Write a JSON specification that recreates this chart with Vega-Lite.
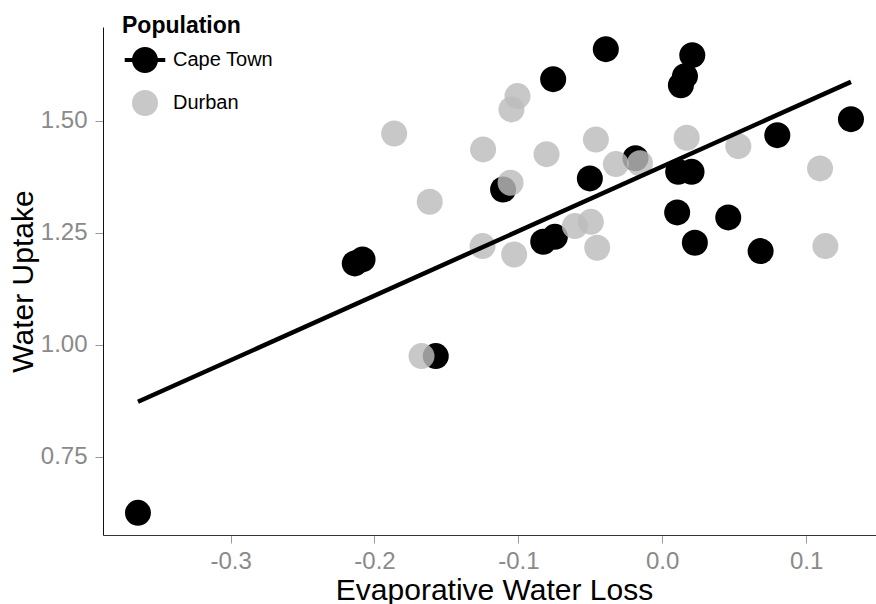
{
  "$schema": "https://vega.github.io/schema/vega-lite/v6.json",
  "autosize": {"type": "none"},
  "width": 773,
  "height": 508,
  "padding": {"left": 103, "top": 27, "right": 0, "bottom": 69},
  "background": "white",
  "config": {
    "view": {"stroke": null},
    "font": "Liberation Sans",
    "axis": {"grid": false}
  },
  "datasets": {
    "points": [
      {"Population": "Cape Town", "ewl": -0.3644, "wu": 0.6245},
      {"Population": "Cape Town", "ewl": -0.2137, "wu": 1.1813},
      {"Population": "Cape Town", "ewl": -0.2083, "wu": 1.1902},
      {"Population": "Cape Town", "ewl": -0.1574, "wu": 0.9743},
      {"Population": "Cape Town", "ewl": -0.1106, "wu": 1.3464},
      {"Population": "Cape Town", "ewl": -0.0827, "wu": 1.2295},
      {"Population": "Cape Town", "ewl": -0.0746, "wu": 1.2406},
      {"Population": "Cape Town", "ewl": -0.0758, "wu": 1.5926},
      {"Population": "Cape Town", "ewl": -0.0503, "wu": 1.371},
      {"Population": "Cape Town", "ewl": -0.0392, "wu": 1.6596},
      {"Population": "Cape Town", "ewl": -0.0186, "wu": 1.416},
      {"Population": "Cape Town", "ewl": 0.0104, "wu": 1.2951},
      {"Population": "Cape Town", "ewl": 0.0111, "wu": 1.3857},
      {"Population": "Cape Town", "ewl": 0.013, "wu": 1.579},
      {"Population": "Cape Town", "ewl": 0.0158, "wu": 1.5993},
      {"Population": "Cape Town", "ewl": 0.0204, "wu": 1.3857},
      {"Population": "Cape Town", "ewl": 0.0209, "wu": 1.6462},
      {"Population": "Cape Town", "ewl": 0.0227, "wu": 1.2273},
      {"Population": "Cape Town", "ewl": 0.0459, "wu": 1.284},
      {"Population": "Cape Town", "ewl": 0.0684, "wu": 1.2087},
      {"Population": "Cape Town", "ewl": 0.08, "wu": 1.4676},
      {"Population": "Cape Town", "ewl": 0.1312, "wu": 1.5033},
      {"Population": "Durban", "ewl": -0.1673, "wu": 0.9743},
      {"Population": "Durban", "ewl": -0.1863, "wu": 1.4714},
      {"Population": "Durban", "ewl": -0.1616, "wu": 1.3188},
      {"Population": "Durban", "ewl": -0.1245, "wu": 1.4357},
      {"Population": "Durban", "ewl": -0.1249, "wu": 1.2199},
      {"Population": "Durban", "ewl": -0.1054, "wu": 1.3612},
      {"Population": "Durban", "ewl": -0.1029, "wu": 1.2013},
      {"Population": "Durban", "ewl": -0.1006, "wu": 1.5547},
      {"Population": "Durban", "ewl": -0.1048, "wu": 1.525},
      {"Population": "Durban", "ewl": -0.0804, "wu": 1.4252},
      {"Population": "Durban", "ewl": -0.0607, "wu": 1.2645},
      {"Population": "Durban", "ewl": -0.0496, "wu": 1.2741},
      {"Population": "Durban", "ewl": -0.0452, "wu": 1.2161},
      {"Population": "Durban", "ewl": -0.0461, "wu": 1.458},
      {"Population": "Durban", "ewl": -0.0322, "wu": 1.4029},
      {"Population": "Durban", "ewl": -0.0155, "wu": 1.405},
      {"Population": "Durban", "ewl": 0.017, "wu": 1.4617},
      {"Population": "Durban", "ewl": 0.0529, "wu": 1.443},
      {"Population": "Durban", "ewl": 0.1097, "wu": 1.3933},
      {"Population": "Durban", "ewl": 0.1134, "wu": 1.2199}
    ],
    "fit": [
      {"ewl": -0.3644, "wu": 0.8723},
      {"ewl": 0.1312, "wu": 1.5866}
    ]
  },
  "layer": [
    {
      "data": {"name": "points"},
      "mark": {"type": "circle", "size": 676, "opacity": 1},
      "encoding": {
        "x": {
          "field": "ewl",
          "type": "quantitative",
          "scale": {"domain": [-0.3887, 0.1486], "nice": false, "zero": false},
          "axis": {
            "title": "Evaporative Water Loss",
            "values": [-0.3, -0.2, -0.1, 0, 0.1],
            "labelExpr": "datum.value < 0 ? '-' + format(-datum.value, '.1f') : format(datum.value, '.1f')",
            "tickSize": 8,
            "tickColor": "#9a9a9a",
            "domainColor": "#333333",
            "labelFontSize": 24,
            "labelColor": "#8a8a8a",
            "labelPadding": 6,
            "labelFlush": false,
            "titleFontSize": 30,
            "titleFontWeight": "normal",
            "titleColor": "#000000",
            "titlePadding": 2,
            "titleX": 391
          }
        },
        "y": {
          "field": "wu",
          "type": "quantitative",
          "scale": {"domain": [0.575, 1.709], "nice": false, "zero": false},
          "axis": {
            "title": "Water Uptake",
            "values": [0.75, 1, 1.25, 1.5],
            "format": ".2f",
            "tickSize": 8,
            "tickColor": "#9a9a9a",
            "domainColor": "#111111",
            "labelFontSize": 24,
            "labelColor": "#8a8a8a",
            "labelPadding": 8,
            "titleFontSize": 30,
            "titleFontWeight": "normal",
            "titleColor": "#000000",
            "titlePadding": 2
          }
        },
        "color": {
          "field": "Population",
          "type": "nominal",
          "scale": {"domain": ["Cape Town", "Durban"], "range": ["#000000", "rgba(188,188,188,0.82)"]},
          "legend": {
            "title": "Population",
            "orient": "none",
            "legendX": 19,
            "legendY": -12,
            "padding": 0,
            "titleFontSize": 23,
            "titleFontWeight": "bold",
            "titleColor": "#000000",
            "titlePadding": 9,
            "labelFontSize": 20,
            "labelColor": "#000000",
            "labelOffset": 15,
            "symbolSize": 676,
            "symbolOffset": 10,
            "symbolStrokeWidth": 0,
            "rowPadding": 17,
            "symbolType": {"expr": "datum.value === 'Cape Town' ? 'M-1,0A1,1 0 1,1 1,0A1,1 0 1,1 -1,0Z M-1.56,-0.155H1.56V0.155H-1.56Z' : 'circle'"}
          }
        }
      }
    },
    {
      "data": {"name": "fit"},
      "mark": {"type": "line", "color": "#000000", "strokeWidth": 4.5},
      "encoding": {
        "x": {"field": "ewl", "type": "quantitative"},
        "y": {"field": "wu", "type": "quantitative"}
      }
    }
  ]
}
